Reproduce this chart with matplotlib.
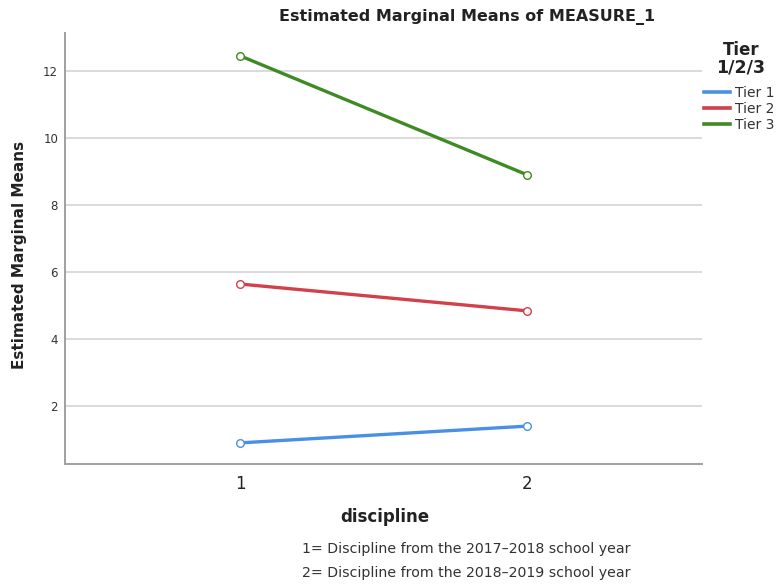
import matplotlib
matplotlib.use("Agg")
import matplotlib.pyplot as plt
from matplotlib.lines import Line2D

categories = [1, 2]
tier_names = ["Tier 1", "Tier 2", "Tier 3"]
tier1 = [0.90, 1.40]
tier2 = [5.64, 4.84]
tier3 = [12.45, 8.90]
series = [tier1, tier2, tier3]
colors = ["#4a8fe6", "#d2404c", "#3f8a24"]
yticks = [2, 4, 6, 8, 10, 12]

plt.rcParams['font.family'] = ['DejaVu Sans']
fig = plt.figure(figsize=(7.76, 5.84), dpi=100)
ax = fig.add_axes([65/776, 1-464/584, (702-65)/776, (464-33)/584])

for vals, c, name in zip(series, colors, tier_names):
    ax.plot(categories, vals, color=c, lw=2.4, marker='o', ms=5.5,
            mfc='white', mec=c, mew=1.0, label=name, zorder=3)

ax.set_xlim(0.39, 2.61)
ax.set_ylim(0.27, 13.13)
ax.set_yticks(yticks)
ax.set_xticks(categories)
ax.set_xticklabels([str(c) for c in categories], fontsize=12, color='#222222')
ax.tick_params(axis='y', labelsize=8.5, colors='#333333', length=0, pad=5)
ax.tick_params(axis='x', length=0, pad=8)
ax.grid(axis='y', color='#d4d4d4', lw=1.2)
ax.set_axisbelow(True)
for s in ['top', 'right']:
    ax.spines[s].set_visible(False)
for s in ['left', 'bottom']:
    ax.spines[s].set_color('#a0a0a0')
    ax.spines[s].set_linewidth(1.4)

fig.text(467/776, 1-17/584, "Estimated Marginal Means of MEASURE_1", ha='center', va='center',
         fontsize=11.5, fontweight='bold', color='#222222')
fig.text(20/776, 1-255/584, "Estimated Marginal Means", rotation=90, ha='center', va='center',
         fontsize=11, fontweight='bold', color='#222222')
fig.text(385/776, 1-517/584, "discipline", ha='center', va='center',
         fontsize=12, fontweight='bold', color='#222222')
fig.text(302/776, 1-549/584, "1= Discipline from the 2017–2018 school year", ha='left', va='center',
         fontsize=10.2, color='#333333')
fig.text(302/776, 1-573/584, "2= Discipline from the 2018–2019 school year", ha='left', va='center',
         fontsize=10.2, color='#333333')

fig.text(741/776, 1-50/584, "Tier", ha='center', va='center', fontsize=12, fontweight='bold', color='#222222')
fig.text(741/776, 1-68/584, "1/2/3", ha='center', va='center', fontsize=12.5, fontweight='bold', color='#222222')
handles = [Line2D([0], [0], color=c, lw=2.6) for c in colors]
leg = fig.legend(handles, tier_names, loc='upper left', bbox_to_anchor=(704/776, 1-86/584),
                 frameon=False, fontsize=10, handlelength=1.9, handletextpad=0.3,
                 labelspacing=0.15, borderaxespad=0, borderpad=0)
for t in leg.get_texts():
    t.set_color('#333333')

fig.savefig("out.png", dpi=100)
